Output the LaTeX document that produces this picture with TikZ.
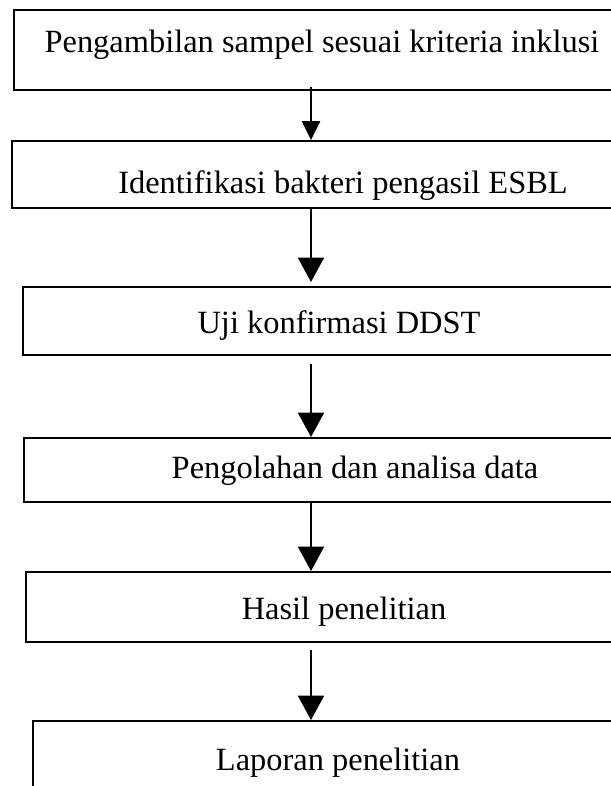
\documentclass[tikz,border=0pt]{standalone}
\usepackage{fontspec}
\setmainfont{Liberation Serif}
\usetikzlibrary{arrows.meta}

\begin{document}
\begin{tikzpicture}[x=0.37pt, y=-0.37pt,
  box/.style = {draw, line width=0.75pt, anchor=north west, minimum width=240pt, inner sep=0pt},
  txt/.style = {anchor=base, inner sep=0pt, font=\fontsize{12}{14}\selectfont},
  arr/.style = {line width=0.75pt, -{Triangle[length=9pt, width=9.6pt]}},
  arrsmall/.style = {line width=0.75pt, -{Triangle[length=7pt, width=6.7pt]}}]
\useasboundingbox (0,0) rectangle (611,786);
\clip (0,0) rectangle (611,786);
% kotak
\node [box, minimum height=29.6pt] (b1) at (13,9) {};
\node [box, minimum height=24.8pt] (b2) at (11,140) {};
\node [box, minimum height=25.2pt] (b3) at (22,286) {};
\node [box, minimum height=23.7pt] (b4) at (23,437) {};
\node [box, minimum height=25.9pt] (b5) at (25,571) {};
\node [box, minimum height=40pt] (b6) at (32,720) {};
% teks
\node [txt] (t1) at (322,52) {Pengambilan sampel sesuai kriteria inklusi};
\node [txt] (t2) at (343,193) {Identifikasi bakteri pengasil ESBL};
\node [txt] (t3) at (339,333) {Uji konfirmasi DDST};
\node [txt] (t4) at (355,478) {Pengolahan dan analisa data};
\node [txt] (t5) at (344,619) {Hasil penelitian};
\node [txt] (t6) at (338,770) {Laporan penelitian};
% panah
\coordinate (ax) at (311,0);
\draw [arrsmall] ([yshift=1.5pt]b1.south -| ax) -- (b2.north -| ax);
\draw [arr] (b2.south -| ax) -- ([yshift=1.5pt]b3.north -| ax);
\draw [arr] ([yshift=-3pt]b3.south -| ax) -- (b4.north -| ax);
\draw [arr] (b4.south -| ax) -- (b5.north -| ax);
\draw [arr] ([yshift=-2.5pt]b5.south -| ax) -- (b6.north -| ax);
\end{tikzpicture}
\end{document}
